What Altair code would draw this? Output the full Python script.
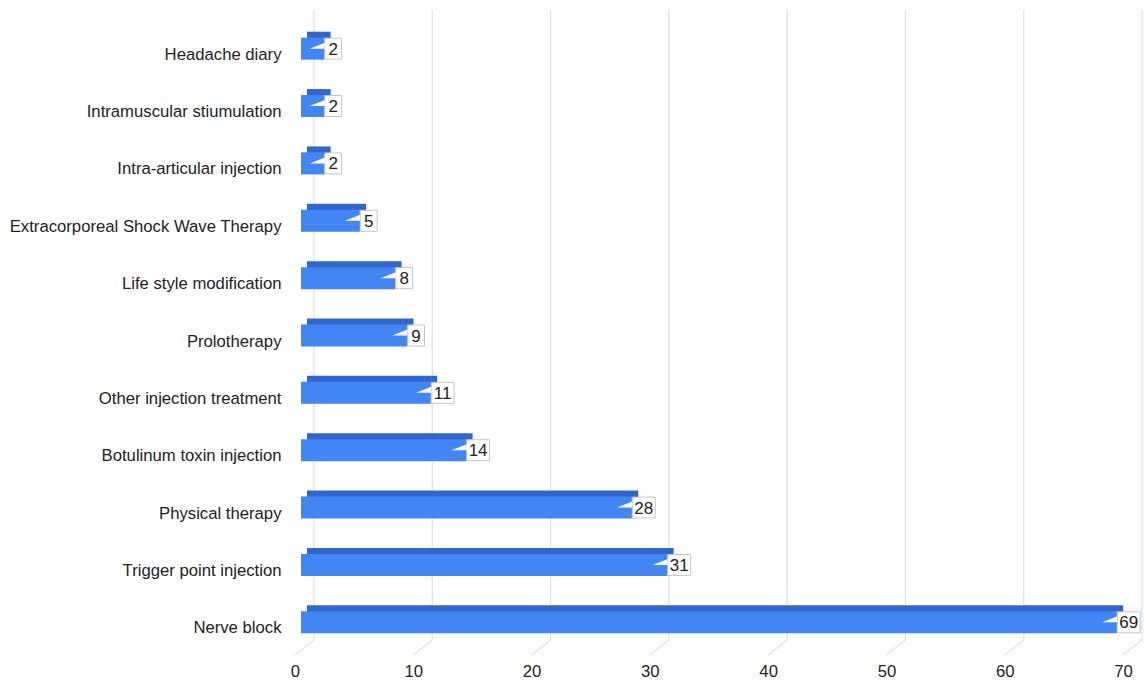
import altair as alt
import pandas as pd

categories = [
    "Headache diary",
    "Intramuscular stiumulation",
    "Intra-articular injection",
    "Extracorporeal Shock Wave Therapy",
    "Life style modification",
    "Prolotherapy",
    "Other injection treatment",
    "Botulinum toxin injection",
    "Physical therapy",
    "Trigger point injection",
    "Nerve block",
]
values = [2, 2, 2, 5, 8, 9, 11, 14, 28, 31, 69]
ticks = [0, 10, 20, 30, 40, 50, 60, 70]

df = pd.DataFrame({"cat": categories, "value": values})
tdf = pd.DataFrame({"tick": ticks})

W, H = 828, 631
FONT = "Liberation Sans"
FRONT = "#4285f4"
DARK = "#3366cc"

xscale = alt.Scale(domain=[0, 70], nice=False, zero=True)
yscale = alt.Scale(domain=categories, paddingInner=0, paddingOuter=0)

X = alt.X("value:Q", scale=xscale, axis=alt.Axis(values=ticks), title=None)
Y = alt.Y("cat:N", scale=yscale, sort=categories, title=None)

grid = alt.Chart(tdf).mark_rule(color="#e2e2e2", strokeWidth=1.3, xOffset=13).encode(
    x=alt.X("tick:Q", scale=xscale, title=None),
    y=alt.value(-10),
    y2=alt.value(H - 11),
)
floor = alt.Chart(tdf).mark_rule(
    color="#e2e2e2", strokeWidth=1.3, xOffset=-6, x2Offset=13
).encode(
    x=alt.X("tick:Q", scale=xscale, title=None),
    x2="tick:Q",
    y=alt.value(H + 4),
    y2=alt.value(H - 11),
)

back = alt.Chart(df).mark_bar(
    color=DARK, size=22, xOffset=6, x2Offset=6, yOffset=-6, y2Offset=-6
).encode(x=X, y=Y)
front = alt.Chart(df).mark_bar(color=FRONT, size=22).encode(x=X, y=Y)

box1 = alt.Chart(df).transform_filter("datum.value < 10").mark_bar(
    fill="white", stroke="#c4c4c4", strokeWidth=1, size=21, x2Offset=17
).encode(x=X, x2="value:Q", y=Y)
box2 = alt.Chart(df).transform_filter("datum.value >= 10").mark_bar(
    fill="white", stroke="#c4c4c4", strokeWidth=1, size=21, x2Offset=23
).encode(x=X, x2="value:Q", y=Y)

wedge = alt.Chart(df).mark_point(
    shape="M-1,0.4 L1,-0.4 L1,0.4 Z",
    size=225,
    filled=True,
    fill="white",
    opacity=1,
    strokeWidth=0,
    xOffset=-7.5,
    yOffset=-3,
).encode(x=X, y=Y)

text1 = alt.Chart(df).transform_filter("datum.value < 10").mark_text(
    font=FONT, fontSize=17, color="#222222", align="center", baseline="middle",
    xOffset=8.5, yOffset=1
).encode(x=X, y=Y, text="value:Q")
text2 = alt.Chart(df).transform_filter("datum.value >= 10").mark_text(
    font=FONT, fontSize=17, color="#222222", align="center", baseline="middle",
    xOffset=11.5, yOffset=1
).encode(x=X, y=Y, text="value:Q")

chart = (
    alt.layer(grid, floor, back, front, box1, box2, wedge, text1, text2)
    .properties(
        width=W,
        height=H,
        padding={"left": 301, "top": 20, "right": 16, "bottom": 35},
        autosize=alt.AutoSizeParams(type="none"),
        background="white",
    )
    .configure_view(stroke=None)
    .configure_axisX(
        grid=False, domain=False, ticks=False, labelPadding=12, labelOffset=-6,
        labelFlush=False,
        labelFontSize=16.7, labelFont=FONT, labelColor="#222222", title=None,
    )
    .configure_axisY(
        grid=False, domain=False, ticks=False, labelPadding=20, labelOffset=6,
        labelFontSize=16.7, labelFont=FONT, labelColor="#222222", labelLimit=400,
        title=None,
    )
)

chart.save("out.html", embed_options={"renderer": "svg", "actions": False})
